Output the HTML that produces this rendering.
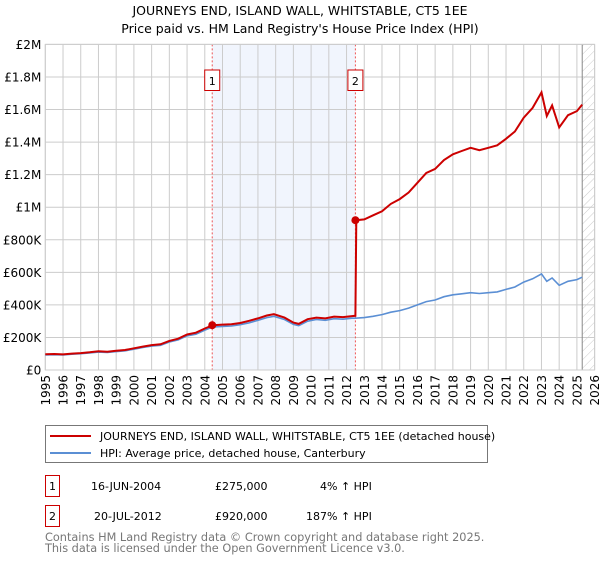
<!DOCTYPE html>
<html><head><meta charset="utf-8"><style>
body{margin:0;background:#fff;font-family:"Liberation Sans","DejaVu Sans",sans-serif;}
svg text{font-family:"DejaVu Sans","Liberation Sans",sans-serif;}
</style></head><body>
<svg id="chart" width="600" height="560" xmlns="http://www.w3.org/2000/svg">
<defs><pattern id="hatch" patternUnits="userSpaceOnUse" width="6" height="6" patternTransform="rotate(45)"><line x1="0" y1="0" x2="0" y2="6" stroke="#ccc" stroke-width="1"/></pattern></defs>
<text x="300" y="15" text-anchor="middle" font-size="12.5" fill="#000">JOURNEYS END, ISLAND WALL, WHITSTABLE, CT5 1EE</text>
<text x="300" y="33" text-anchor="middle" font-size="12.5" fill="#000">Price paid vs. HM Land Registry's House Price Index (HPI)</text>
<g id="plot"></g>
<g id="legend">
<rect x="45.5" y="425.5" width="442" height="37" fill="#fff" stroke="#777"/>
<line x1="50" y1="436" x2="91" y2="436" stroke="#cc0000" stroke-width="2"/>
<text x="100" y="440" font-size="11">JOURNEYS END, ISLAND WALL, WHITSTABLE, CT5 1EE (detached house)</text>
<line x1="50" y1="453" x2="91" y2="453" stroke="#5b8fd4" stroke-width="2"/>
<text x="100" y="457" font-size="11">HPI: Average price, detached house, Canterbury</text>
</g>
<g>
<rect x="45.5" y="475.5" width="14" height="21" fill="none" stroke="#cc0000"/>
<text x="52.5" y="490" text-anchor="middle" font-size="11">1</text>
<text x="91" y="490" font-size="11">16-JUN-2004</text>
<text x="215" y="490" font-size="11">£275,000</text>
<text x="320" y="490" font-size="11">4% ↑ HPI</text>
</g>
<g>
<rect x="45.5" y="505.5" width="14" height="21" fill="none" stroke="#cc0000"/>
<text x="52.5" y="520" text-anchor="middle" font-size="11">2</text>
<text x="94" y="520" font-size="11">20-JUL-2012</text>
<text x="215" y="520" font-size="11">£920,000</text>
<text x="306" y="520" font-size="11">187% ↑ HPI</text>
</g>
<text x="45" y="541" font-size="11.3" fill="#777">Contains HM Land Registry data © Crown copyright and database right 2025.</text>
<text x="45" y="552" font-size="11.3" fill="#777">This data is licensed under the Open Government Licence v3.0.</text>
</svg>
<script>
const hpiYears=[1995.0,1995.5,1996.0,1996.5,1997.0,1997.5,1998.0,1998.5,1999.0,1999.5,2000.0,2000.5,2001.0,2001.5,2002.0,2002.5,2003.0,2003.5,2004.0,2004.45,2005.0,2005.5,2006.0,2006.5,2007.0,2007.5,2007.9,2008.5,2009.0,2009.3,2009.8,2010.3,2010.8,2011.3,2011.8,2012.3,2012.5,2013.0,2013.5,2014.0,2014.5,2015.0,2015.5,2016.0,2016.5,2017.0,2017.5,2018.0,2018.5,2019.0,2019.5,2020.0,2020.5,2021.0,2021.5,2022.0,2022.5,2023.0,2023.3,2023.6,2024.0,2024.5,2025.0,2025.3];
const hpiValues=[93,94,92,97,100,105,110,108,113,118,128,138,147,152,172,185,210,220,245,265,268,270,278,290,305,322,330,310,280,272,300,310,305,315,312,318,318,322,330,340,355,365,380,400,420,430,450,462,468,475,470,475,480,495,510,540,560,590,545,565,520,545,555,570];
const priceYears=[1995.0,1995.5,1996.0,1996.5,1997.0,1997.5,1998.0,1998.5,1999.0,1999.5,2000.0,2000.5,2001.0,2001.5,2002.0,2002.5,2003.0,2003.5,2004.0,2004.45,2005.0,2005.5,2006.0,2006.5,2007.0,2007.5,2007.9,2008.5,2009.0,2009.3,2009.8,2010.3,2010.8,2011.3,2011.8,2012.3,2012.5,2012.55,2013.0,2013.5,2014.0,2014.5,2015.0,2015.5,2016.0,2016.5,2017.0,2017.5,2018.0,2018.5,2019.0,2019.5,2020.0,2020.5,2021.0,2021.5,2022.0,2022.5,2023.0,2023.3,2023.6,2024.0,2024.5,2025.0,2025.3];
const priceValues=[97,98,96,101,104,109,115,112,118,123,133,144,153,158,179,192,218,229,255,275,279,281,289,302,317,335,343,322,291,283,312,322,317,328,325,331,333,920,925,950,975,1020,1050,1090,1150,1210,1235,1290,1325,1345,1365,1350,1365,1380,1420,1465,1550,1610,1705,1560,1625,1490,1565,1590,1630];
const saleYears=[2004.42,2012.5];
const saleValues=[275,920];
const saleLabels=["1","2"];
const yTicks=[0,200,400,600,800,1000,1200,1400,1600,1800,2000];
const yTickLabels=["£0","£200K","£400K","£600K","£800K","£1M","£1.2M","£1.4M","£1.6M","£1.8M","£2M"];
const xTicks=[1995,1996,1997,1998,1999,2000,2001,2002,2003,2004,2005,2006,2007,2008,2009,2010,2011,2012,2013,2014,2015,2016,2017,2018,2019,2020,2021,2022,2023,2024,2025,2026];
const forecastStart=2025.3;

const X0=45.3,PX=17.72,Y0=370,PY=32.56/200;
const xs=t=>X0+(t-1995)*PX;
const ys=v=>Y0-v*PY;
const NS="http://www.w3.org/2000/svg";
const g=document.getElementById('plot');
function mk(tag,attrs){const e=document.createElementNS(NS,tag);for(const k in attrs)e.setAttribute(k,attrs[k]);g.appendChild(e);return e;}
const xL=xs(1995),xR=xs(2026),yT=ys(2000);
let e=mk('rect',{x:xs(saleYears[0]),y:yT,width:xs(saleYears[1])-xs(saleYears[0]),height:Y0-yT,fill:'#eef3fc',opacity:0.8});


e=mk('rect',{x:xs(forecastStart),y:yT,width:xR-xs(forecastStart),height:Y0-yT,fill:'url(#hatch)'});


xTicks.forEach(t=>{
 const l=mk('line',{x1:xs(t),x2:xs(t),y1:yT,y2:Y0,stroke:'#ccc','stroke-width':1});
 
 
 const tx=mk('text',{x:0,y:0,'font-size':12,'text-anchor':'end',transform:`translate(${xs(t)+4.5},${Y0+5}) rotate(-90)`});
 tx.textContent=t;
 
 
});
yTicks.forEach((v,i)=>{
 const l=mk('line',{x1:xL,x2:xR,y1:ys(v),y2:ys(v),stroke:'#ccc','stroke-width':1});
 
 
 const tx=mk('text',{x:xL-4,y:ys(v)+4.5,'font-size':12,'text-anchor':'end'});
 tx.textContent=yTickLabels[i];
 
 
});
e=mk('line',{x1:xs(forecastStart),x2:xs(forecastStart),y1:yT,y2:Y0,stroke:'#888','stroke-width':1});


saleYears.forEach((t,i)=>{
 const l=mk('line',{x1:xs(t),x2:xs(t),y1:yT,y2:Y0,stroke:'#ee5555','stroke-width':1,'stroke-dasharray':'2,2'});
 
 
 const b=mk('rect',{x:xs(t)-7.5,y:70,width:15,height:20.5,fill:'#fff',stroke:'#cc0000'});
 
 
 const tx=mk('text',{x:xs(t),y:85,'font-size':11,'text-anchor':'middle'});
 tx.textContent=saleLabels[i];
 
 
});
e=mk('rect',{x:xL,y:yT,width:xR-xL,height:Y0-yT,fill:'none',stroke:'#ccc'});


function pts(a,b){return a.map((t,i)=>xs(t).toFixed(1)+','+ys(b[i]).toFixed(1)).join(' ');}
e=mk('polyline',{points:pts(hpiYears,hpiValues),fill:'none',stroke:'#5b8fd4','stroke-width':1.6});


e=mk('polyline',{points:pts(priceYears,priceValues),fill:'none',stroke:'#cc0000','stroke-width':2});


saleYears.forEach((t,i)=>{
 const c=mk('circle',{cx:xs(t),cy:ys(saleValues[i]),r:4,fill:'#cc0000'});
 
 
});
</script>
</body></html>
